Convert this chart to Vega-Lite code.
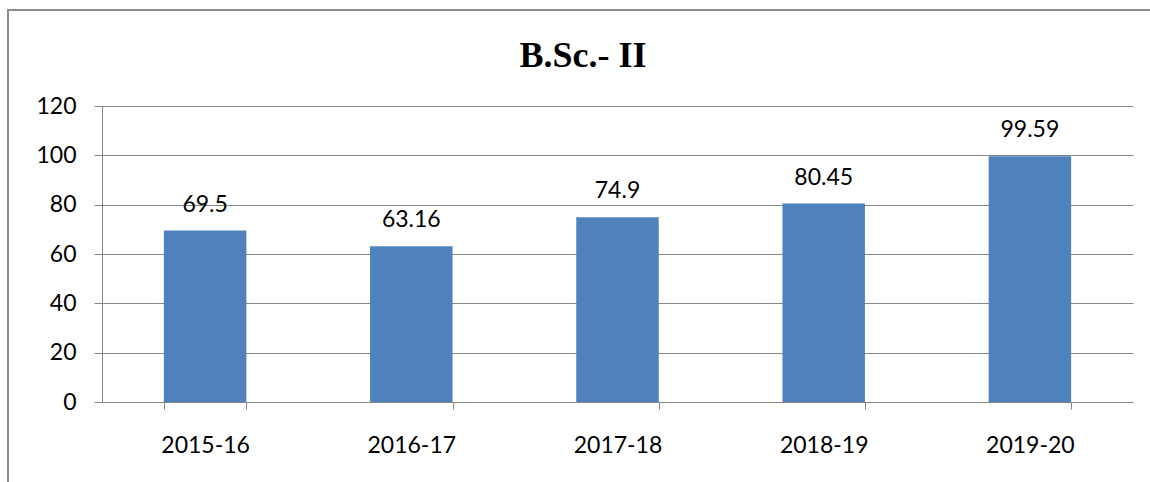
{
  "$schema": "https://vega.github.io/schema/vega-lite/v6.json",
  "width": 1150,
  "height": 480,
  "autosize": {"type": "none"},
  "padding": {"left": 8, "top": 10, "right": 0, "bottom": 0},
  "background": "white",
  "title": {
    "text": "B.Sc.- II",
    "font": "Liberation Serif",
    "fontSize": 36,
    "fontWeight": "bold",
    "color": "black",
    "anchor": "middle",
    "frame": "group",
    "baseline": "alphabetic",
    "offset": -55,
    "dy": 38
  },
  "data": {
    "values": [
      {"year": "2015-16", "value": 69.5},
      {"year": "2016-17", "value": 63.16},
      {"year": "2017-18", "value": 74.9},
      {"year": "2018-19", "value": 80.45},
      {"year": "2019-20", "value": 99.59}
    ]
  },
  "encoding": {
    "x": {
      "field": "year",
      "type": "nominal",
      "sort": null,
      "scale": {"range": [94, 1125], "paddingInner": 0.6, "paddingOuter": 0.3},
      "axis": {
        "title": null,
        "orient": "bottom",
        "offset": -88,
        "labelAngle": 0,
        "tickBand": "extent",
        "tickSize": 7,
        "labelPadding": 25,
        "grid": false
      }
    },
    "y": {
      "field": "value",
      "type": "quantitative",
      "scale": {"domain": [0, 120], "range": [392, 96], "nice": false},
      "axis": {
        "title": null,
        "offset": -94,
        "values": [0, 20, 40, 60, 80, 100, 120],
        "tickSize": 8,
        "labelPadding": 18,
        "grid": true
      }
    }
  },
  "layer": [
    {"mark": {"type": "bar", "color": "#4F81BD"}},
    {
      "mark": {
        "type": "text",
        "dy": -19,
        "baseline": "alphabetic",
        "font": "Lato",
        "fontSize": 23,
        "color": "black"
      },
      "encoding": {"text": {"field": "value", "type": "quantitative"}}
    }
  ],
  "config": {
    "view": {"stroke": "#8c8c8c", "strokeWidth": 2},
    "axis": {
      "labelFont": "Lato",
      "labelFontSize": 23,
      "labelColor": "black",
      "domainColor": "#868686",
      "tickColor": "#868686",
      "gridColor": "#868686",
      "gridOpacity": 1,
      "domainWidth": 1,
      "tickWidth": 1,
      "gridWidth": 1
    }
  }
}
